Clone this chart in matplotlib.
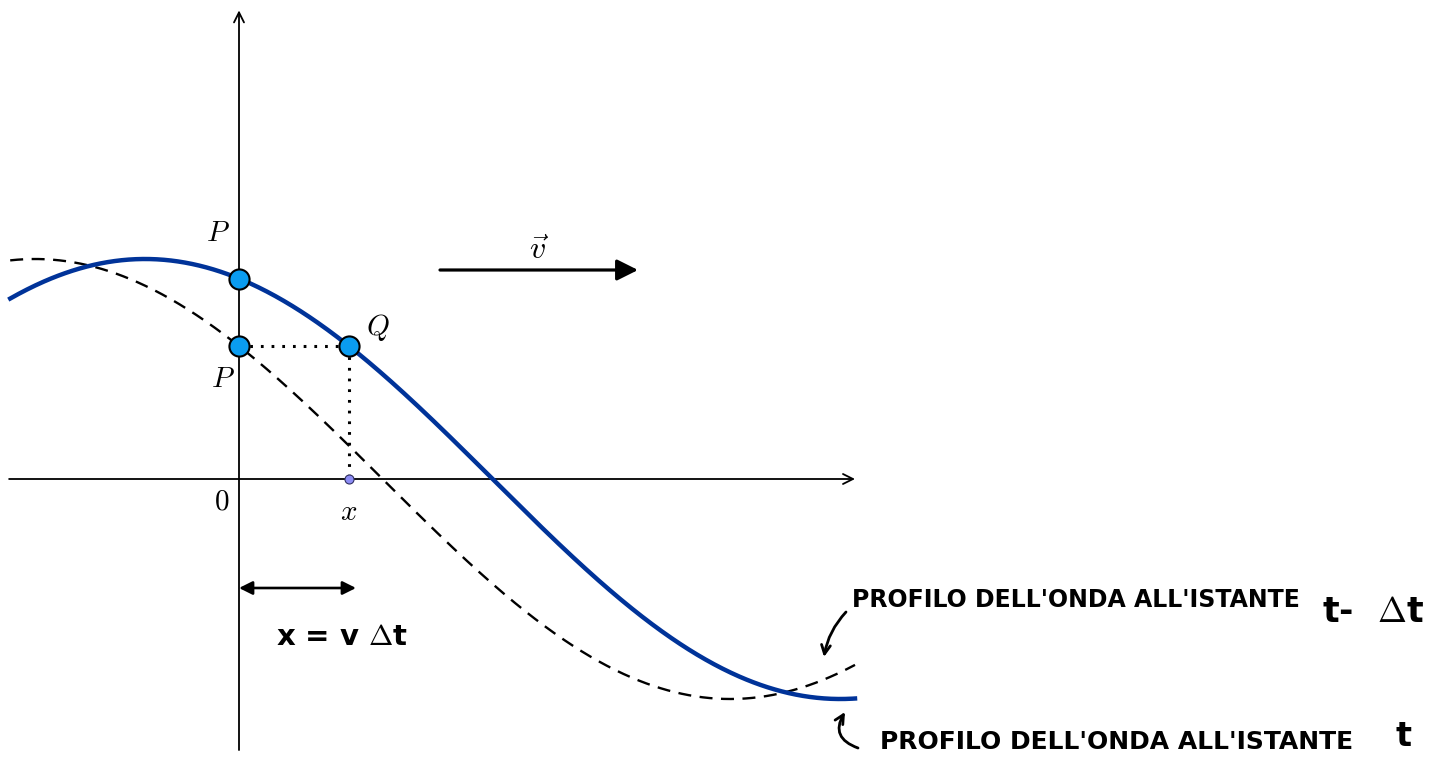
import numpy as np
import matplotlib
matplotlib.use("Agg")
import matplotlib.pyplot as plt

# ---- data (physical units: shift dx = 1, amplitude = 1) ----
amplitude = 1.0
half_wavelength = 6.32       # distance peak -> trough
peak_x_now = -0.855          # position of crest of profile at time t
shift = 1.0                  # v * dt
x_range = [-2.08, 5.6]
point_labels = ["P", "P", "Q"]
hand_label_1 = "PROFILO DELL'ONDA ALL'ISTANTE"
hand_label_2 = "PROFILO DELL'ONDA ALL'ISTANTE"

k = np.pi / half_wavelength
def profile_now(x):
    return amplitude * np.cos(k * (x - peak_x_now))
def profile_before(x):
    return amplitude * np.cos(k * (x - peak_x_now + shift))

plt.rcParams['mathtext.fontset'] = 'cm'
fig = plt.figure(figsize=(14.44, 7.6), dpi=100)
ax = fig.add_axes([0, 0, 1, 1])
# pixel scale: 110 px per x unit, 220 px per y unit; origin at (239, 479)
ax.set_xlim(-239 / 110, (1444 - 239) / 110)
ax.set_ylim(-(760 - 479) / 220, 479 / 220)
ax.axis('off')

def px(xp):
    return (xp - 239) / 110
def py(yp):
    return (479 - yp) / 220

# axes
ax.annotate("", xy=(5.6, 0), xytext=(-2.09, 0),
            arrowprops=dict(arrowstyle="->", lw=1.3, color="black", shrinkA=0, shrinkB=0,
                            mutation_scale=18))
ax.annotate("", xy=(0, 2.13), xytext=(0, -1.232),
            arrowprops=dict(arrowstyle="->", lw=1.3, color="black", shrinkA=0, shrinkB=0,
                            mutation_scale=18))

xs = np.linspace(x_range[0], x_range[1], 600)
ax.plot(xs, profile_before(xs), color="black", lw=1.7, ls=(0, (5.5, 3.6)), zorder=2)
ax.plot(xs, profile_now(xs), color="#003399", lw=3.2, zorder=3)

yP = profile_now(0)
yQ = profile_before(0)
# dotted construction lines
ax.plot([0, shift], [yQ, yQ], color="black", lw=2.2, ls=(0, (0.9, 2.6)), zorder=2)
ax.plot([shift, shift], [yQ, 0], color="black", lw=2.2, ls=(0, (0.9, 2.6)), zorder=2)

ax.plot([0, 0, shift], [yP, yQ, profile_now(shift)], 'o', ms=14.5, mfc="#0a9cf0",
        mec="black", mew=1.5, zorder=5, ls='none')
ax.plot([shift], [0], 'o', ms=6.5, mfc="#8c8cf5", mec="#303060", mew=0.8, zorder=5)

fs = 21
ax.text(px(218), py(233), r"$P$", fontsize=fs, ha="center", va="center")
ax.text(px(223), py(379), r"$P$", fontsize=fs, ha="center", va="center")
ax.text(px(378), py(328), r"$Q$", fontsize=fs, ha="center", va="center")
ax.text(px(222), py(502), r"$0$", fontsize=fs, ha="center", va="center")
ax.text(px(349), py(512), r"$x$", fontsize=fs, ha="center", va="center")

# velocity vector
ax.annotate("", xy=(px(638), py(270)), xytext=(px(440), py(270)),
            arrowprops=dict(arrowstyle="-|>", lw=2.3, color="black", shrinkA=0, shrinkB=0,
                            mutation_scale=32))
ax.text(px(539), py(251), r"$\vec{v}$", fontsize=23, ha="center", va="center")

# double arrow for x = v dt
ax.annotate("", xy=(px(356), py(588)), xytext=(0.0, py(588)),
            arrowprops=dict(arrowstyle="<|-|>", lw=1.9, color="black", shrinkA=0, shrinkB=0,
                            mutation_scale=20))

hand = dict(family="DejaVu Sans", fontweight="bold", color="black")
ax.text(px(342), py(637), r"x = v $\Delta$t", fontsize=21, ha="center", va="center", **hand)

# hand-drawn labels
ax.text(px(852), py(600), hand_label_1, fontsize=17, ha="left", va="center", **hand)
ax.text(px(1322), py(612), r"t-  $\Delta$t", fontsize=25, ha="left", va="center", **hand)
ax.text(px(880), py(742), hand_label_2, fontsize=18, ha="left", va="center", **hand)
ax.text(px(1396), py(736), "t", fontsize=24, ha="left", va="center", **hand)

# hand arrows pointing to curves
ax.annotate("", xy=(px(824), py(657)), xytext=(px(846), py(612)),
            arrowprops=dict(arrowstyle="->", lw=2.0, color="black", shrinkA=0, shrinkB=0,
                            mutation_scale=16, connectionstyle="arc3,rad=0.15"))
ax.annotate("", xy=(px(845), py(712)), xytext=(px(858), py(748)),
            arrowprops=dict(arrowstyle="->", lw=2.0, color="black", shrinkA=0, shrinkB=0,
                            mutation_scale=16, connectionstyle="arc3,rad=-0.6"))

fig.savefig("out.png", dpi=100, facecolor="white")
